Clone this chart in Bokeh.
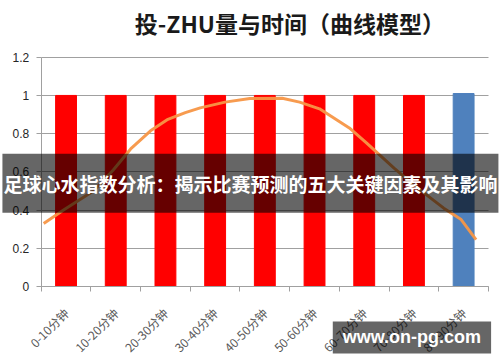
from bokeh.plotting import figure
from bokeh.models import Range1d, FixedTicker, NumeralTickFormatter, Label, ColumnDataSource
from bokeh.embed import file_html
from bokeh.resources import INLINE
import math

# ---- data ----
categories = ["0-10分钟", "10-20分钟", "20-30分钟", "30-40分钟", "40-50分钟",
              "50-60分钟", "60-70分钟", "70-80分钟", "80-90分钟"]
category_centers = [5, 15, 25, 35, 45, 55, 65, 75, 85]
bar_values = [1, 1, 1, 1, 1, 1, 1, 1, 1.01]
bar_colors = ["#FF0000"] * 8 + ["#4F81BD"]

curve_minutes = [0.5, 4.5, 10.5, 14.5, 18, 22, 25.5, 29, 32, 37, 42, 48.5, 52, 56, 62,
                 65.5, 71, 75.5, 81, 84.5, 87.5]
curve_values = [0.33, 0.40, 0.50, 0.61, 0.72, 0.815, 0.875, 0.91, 0.935, 0.965, 0.984, 0.985,
                0.965, 0.93, 0.83, 0.75, 0.62, 0.52, 0.41, 0.35, 0.245]

y_ticks = [0, 0.2, 0.4, 0.6, 0.8, 1.0, 1.2]
x_bounds = [0, 10, 20, 30, 40, 50, 60, 70, 80, 90]

title_text = "投-ZHU量与时间（曲线模型）"
banner_text = "足球心水指数分析：揭示比赛预测的五大关键因素及其影响"
watermark_text = "www.on-pg.com"

CJK = "Noto Sans CJK SC"
GRID = "#a0a0a0"

p = figure(width=500, height=362, output_backend="svg", toolbar_location=None,
           x_range=Range1d(-8.19, 92.42), y_range=Range1d(-0.398, 1.497),
           min_border=0)
p.outline_line_color = None
p.background_fill_color = "white"
p.border_fill_color = "white"

# grid
p.xgrid.visible = False
p.ygrid.ticker = FixedTicker(ticks=y_ticks)
p.ygrid.grid_line_color = GRID
p.ygrid.grid_line_width = 1
p.ygrid.bounds = (0, 1.2)
p.ygrid.cross_bounds = (0, 90)

# y axis
p.yaxis.fixed_location = 0
p.yaxis.bounds = (0, 1.2)
p.yaxis.ticker = FixedTicker(ticks=y_ticks)
p.yaxis.formatter = NumeralTickFormatter(format="0.[0]")
p.yaxis.axis_line_color = GRID
p.yaxis.major_tick_line_color = GRID
p.yaxis.major_tick_out = 5
p.yaxis.major_tick_in = 0
p.yaxis.minor_tick_line_color = None
p.yaxis.major_label_text_font = "Liberation Sans"
p.yaxis.major_label_text_font_size = "12px"
p.yaxis.major_label_text_color = "#262626"
p.yaxis.major_label_standoff = 7

# x axis: labels at category centres, tick marks at category boundaries
p.xaxis.fixed_location = 0
p.xaxis.bounds = (0, 90)
p.xaxis.ticker = FixedTicker(ticks=category_centers, minor_ticks=x_bounds)
p.xaxis.major_label_overrides = {c: t for c, t in zip(category_centers, categories)}
p.xaxis.major_label_orientation = math.pi / 4
p.xaxis.axis_line_color = GRID
p.xaxis.major_tick_line_color = None
p.xaxis.minor_tick_line_color = GRID
p.xaxis.minor_tick_out = 5
p.xaxis.minor_tick_in = 0
p.xaxis.major_label_text_font = CJK
p.xaxis.major_label_text_font_size = "12px"
p.xaxis.major_label_text_color = "#595959"
p.xaxis.major_label_standoff = 18

# bars
src = ColumnDataSource(dict(x=category_centers, top=bar_values, color=bar_colors))
p.vbar(x="x", top="top", bottom=0, width=4.2, color="color", source=src)

# curve
p.line(curve_minutes, curve_values, line_color="#F79646", line_width=3, line_alpha=0.95)

# title
p.add_layout(Label(x=50, y=1.38, text=title_text, text_align="center", text_baseline="middle",
                   text_font=CJK, text_font_size="23px", text_font_style="bold",
                   text_color="#1a1a1a"))

# banner overlay
p.add_layout(Label(x=42.1, y=0.54, text=banner_text, text_align="center", text_baseline="middle",
                   text_font=CJK, text_font_size="19px", text_font_style="bold",
                   text_color="white", background_fill_color="black", background_fill_alpha=0.6,
                   padding=dict(left=1, right=1, top=16, bottom=16)))

# watermark
p.add_layout(Label(x=74.6, y=-0.267, text=watermark_text, text_align="center", text_baseline="middle",
                   text_font="Liberation Sans", text_font_size="18px", text_font_style="bold",
                   text_color="white", background_fill_color="black", background_fill_alpha=0.6,
                   padding=dict(left=10, right=10, top=6, bottom=6)))

open("out.html", "w").write(file_html(p, INLINE))
